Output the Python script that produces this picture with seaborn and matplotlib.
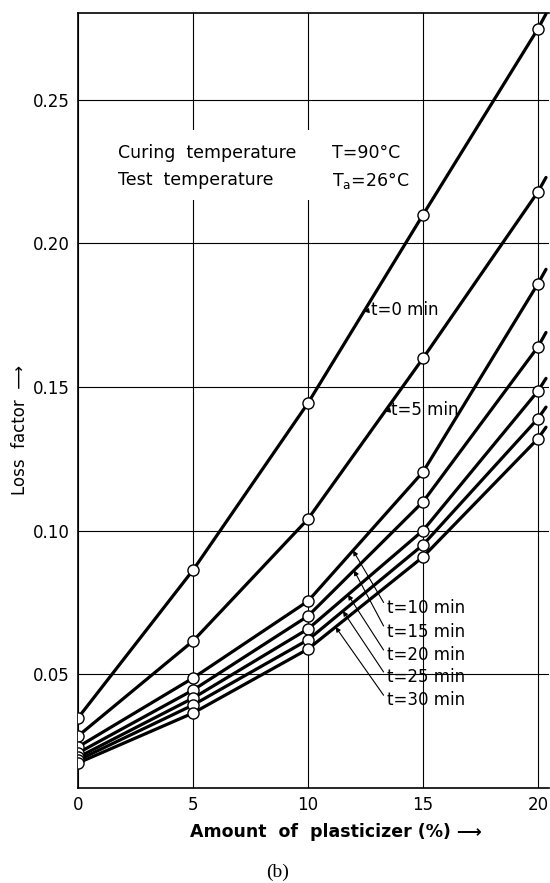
# Loss factor vs. amount of plasticizer, for several curing times

import numpy as np
import pandas as pd
import matplotlib
matplotlib.use("Agg")
import matplotlib.pyplot as plt
from matplotlib.patches import Rectangle
import seaborn as sns

# data
plasticizer = [0, 5, 10, 15, 20]
cure_times = [0, 5, 10, 15, 20, 25, 30]

loss_t0 = [0.0347, 0.0862, 0.1444, 0.2100, 0.2748]
loss_t5 = [0.0284, 0.0615, 0.1040, 0.1600, 0.2180]
loss_t10 = [0.0246, 0.0486, 0.0754, 0.1204, 0.1860]
loss_t15 = [0.0225, 0.0444, 0.0702, 0.1100, 0.1640]
loss_t20 = [0.0210, 0.0416, 0.0657, 0.1000, 0.1486]
loss_t25 = [0.0200, 0.0392, 0.0619, 0.0950, 0.1390]
loss_t30 = [0.0190, 0.0364, 0.0587, 0.0908, 0.1320]

# where the curves leave the plot on the right
x_edge = 20.35
loss_edge = [0.2800, 0.2230, 0.1910, 0.1690, 0.1530, 0.1430, 0.1360]

series = [loss_t0, loss_t5, loss_t10, loss_t15, loss_t20, loss_t25, loss_t30]

points = pd.DataFrame({
    "plasticizer": np.tile(plasticizer, len(cure_times)),
    "loss": np.concatenate(series),
    "time": np.repeat(cure_times, len(plasticizer)),
})
edges = pd.DataFrame({"plasticizer": x_edge, "loss": loss_edge, "time": cure_times})
lines = pd.concat([points, edges], ignore_index=True)

sns.set_style("white")
plt.rcParams["font.family"] = ["DejaVu Sans"]
plt.rcParams["text.color"] = "black"
plt.rcParams["xtick.color"] = "black"
plt.rcParams["ytick.color"] = "black"
plt.rcParams["axes.labelcolor"] = "black"

fig = plt.figure(figsize=(5.5, 8.83), dpi=100)
ax = fig.add_axes([78 / 550, 1 - 788 / 883, 471 / 550, 775 / 883])

sns.lineplot(data=lines, x="plasticizer", y="loss", units="time", estimator=None,
             color="black", lw=2.3, sort=True, ax=ax, legend=False)
sns.scatterplot(data=points, x="plasticizer", y="loss", color="white",
                edgecolor="black", linewidth=1.0, s=64, zorder=3, ax=ax, legend=False)

ax.set_xlim(0, 20.48)
ax.set_ylim(0.0103, 0.2803)
ax.set_xticks([0, 5, 10, 15, 20])
ax.set_yticks([0.05, 0.10, 0.15, 0.20, 0.25])
ax.set_yticklabels([f"{v:.2f}" for v in ax.get_yticks()])
ax.tick_params(length=0, labelsize=12, pad=6)
ax.grid(True, color="black", lw=0.8)
ax.set_axisbelow(True)
for side in ["left", "bottom", "top"]:
    ax.spines[side].set_color("black")
    ax.spines[side].set_linewidth(1.2)
ax.spines["right"].set_visible(False)
ax.set_xlabel("")
ax.set_ylabel("")

# conditions block, with the grid blanked out behind it
ax.add_patch(Rectangle((1.4, 0.2151), 13.0, 0.0244, fc="white", ec="none", zorder=1.5))
ax.text(1.74, 0.2315, "Curing  temperature", fontsize=12.5, va="center", zorder=2)
ax.text(11.04, 0.2315, "T=90°C", fontsize=12.5, va="center", zorder=2)
ax.text(1.74, 0.2220, "Test  temperature", fontsize=12.5, va="center", zorder=2)
ax.text(11.04, 0.2220, r"$\mathrm{T_a}$=26°C", fontsize=12.5, va="center", zorder=2)

arrow = dict(arrowstyle="-|>", lw=0.8, color="black", mutation_scale=7,
             shrinkA=0, shrinkB=0, relpos=(0, 0.5))

# curve labels: (curve, arrow head x, text x, text y)
labels = [
    (0, 12.43, 12.75, 0.1768),
    (1, 13.35, 13.62, 0.1420),
    (2, 11.96, 13.43, 0.0730),
    (3, 12.00, 13.43, 0.0646),
    (4, 11.74, 13.43, 0.0566),
    (5, 11.52, 13.43, 0.0490),
    (6, 11.20, 13.43, 0.0410),
]
for i, hx, tx, ty in labels:
    hy = np.interp(hx, plasticizer, series[i])
    ax.annotate(f"t={cure_times[i]} min", xy=(hx, hy), xytext=(tx, ty),
                fontsize=12, va="center", ha="left", arrowprops=arrow)

fig.text(0.5 * (178 + 493) / 550, 1 - 832 / 883, "Amount  of  plasticizer (%) ⟶",
         fontsize=12.5, fontweight="bold", ha="center", va="center")
fig.text(20 / 550, 1 - 430 / 883, "Loss  factor  ⟶", fontsize=12,
         rotation=90, ha="center", va="center")
fig.text(278 / 550, 1 - 872 / 883, "(b)", fontsize=14, family="Liberation Serif",
         ha="center", va="center")

fig.savefig("out.png", dpi=100)
